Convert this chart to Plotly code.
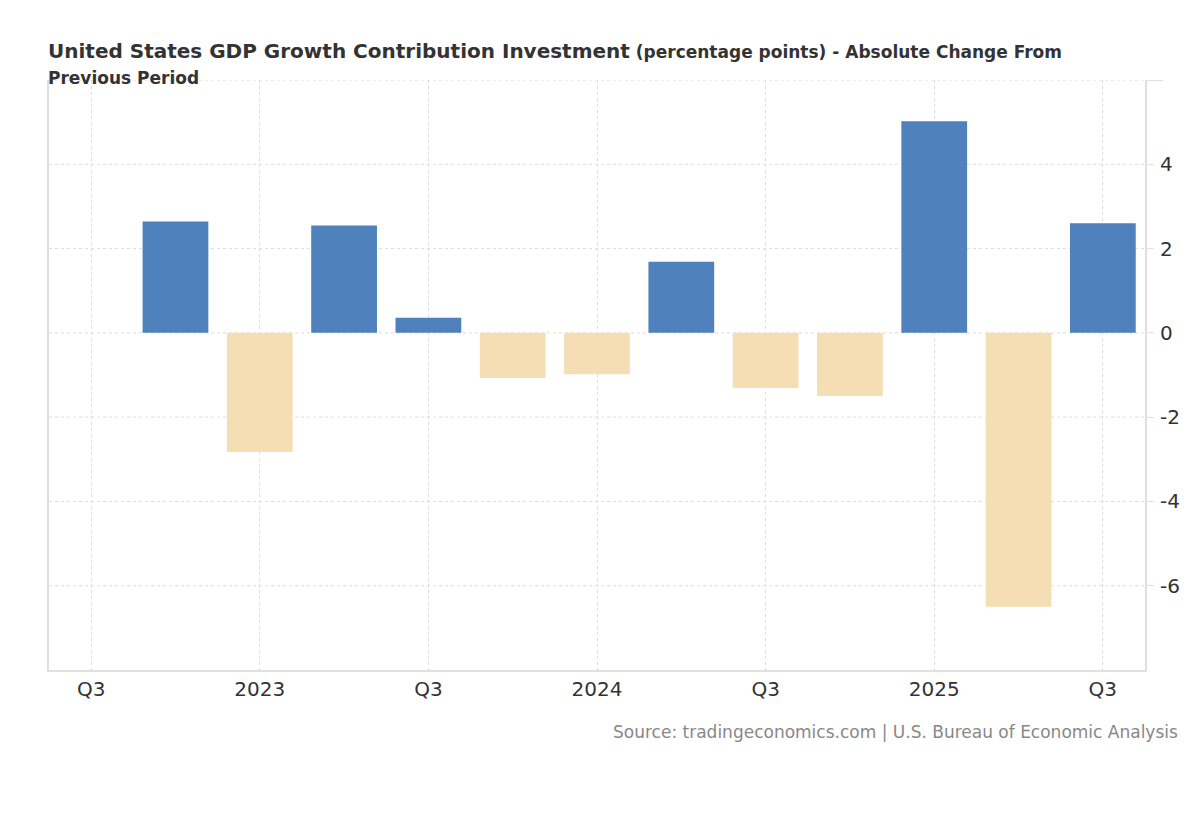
import plotly.graph_objects as go

quarters = ["2022Q4", "2023Q1", "2023Q2", "2023Q3", "2023Q4", "2024Q1",
            "2024Q2", "2024Q3", "2024Q4", "2025Q1", "2025Q2", "2025Q3"]
values = [2.64, -2.83, 2.55, 0.36, -1.07, -0.98, 1.69, -1.31, -1.50, 5.02, -6.50, 2.60]
tick_labels = ["Q3", "2023", "Q3", "2024", "Q3", "2025", "Q3"]
tick_quarters = ["2022Q3", "2023Q1", "2023Q3", "2024Q1", "2024Q3", "2025Q1", "2025Q3"]
y_ticks = [-6, -4, -2, 0, 2, 4]
y_tick_labels = ["-6", "-4", "-2", "0", "2", "4"]


def qidx(q):
    y, n = int(q[:4]), int(q[-1])
    return (y - 2022) * 4 + (n - 3)


xs = [qidx(q) for q in quarters]
tickvals = [qidx(q) for q in tick_quarters]
colors = ["#4f81bd" if v >= 0 else "#f5deb3" for v in values]

fig = go.Figure(go.Bar(x=xs, y=values, marker=dict(color=colors, line=dict(width=0)),
                       width=0.78, hoverinfo="y"))

FONT = "DejaVu Sans, Arial, sans-serif"
fig.update_layout(
    width=1192, height=812,
    margin=dict(l=41, r=55, t=72, b=150),
    plot_bgcolor="white", paper_bgcolor="white",
    showlegend=False,
    font=dict(family=FONT, color="#333333"),
    xaxis=dict(range=[-0.5, 12.5], tickmode="array", tickvals=tickvals, ticktext=tick_labels,
               showgrid=True, gridcolor="#dcdcdc", griddash="dot", gridwidth=1,
               showline=True, linecolor="#e0e0e0", linewidth=2, ticks="",
               tickfont=dict(size=20, color="#333333", family=FONT), zeroline=False),
    yaxis=dict(range=[-8, 6], side="right", tickmode="array", tickvals=y_ticks,
               ticktext=y_tick_labels,
               showgrid=False, showline=True, linecolor="#e0e0e0", linewidth=2, mirror=True,
               ticks="outside", ticklen=7, tickcolor="#e0e0e0", tickwidth=1,
               tickfont=dict(size=20, color="#333333", family=FONT), zeroline=False,
               ticklabelstandoff=2),
    bargap=0.2,
)

for v in [-6, -4, -2, 0, 2, 4, 6]:
    fig.add_shape(type="line", xref="paper", x0=0, x1=1, yref="y", y0=v, y1=v,
                  line=dict(color="#dcdcdc", width=1, dash="dot"), layer="below")
fig.add_shape(type="line", xref="paper", x0=1, x1=1.0165, yref="y", y0=6, y1=6,
              line=dict(color="#e0e0e0", width=2))

fig.add_annotation(
    xref="paper", yref="paper", x=0, y=1, xanchor="left", yanchor="bottom",
    xshift=-3, yshift=-10,
    align="left", showarrow=False,
    text="<b>United States GDP Growth Contribution Investment</b>"
         "<span style='font-size:17px'><b> (percentage points) - Absolute Change From</b></span><br>"
         "<span style='font-size:17px'><b>Previous Period</b></span>",
    font=dict(size=20, color="#333333", family=FONT))

fig.add_annotation(
    xref="paper", yref="paper", x=(1172 - 41) / 1096, y=0, xanchor="right", yanchor="top",
    yshift=-50, showarrow=False,
    text="Source: tradingeconomics.com | U.S. Bureau of Economic Analysis",
    font=dict(size=17, color="#888888", family=FONT))

fig.write_html("out.html")
